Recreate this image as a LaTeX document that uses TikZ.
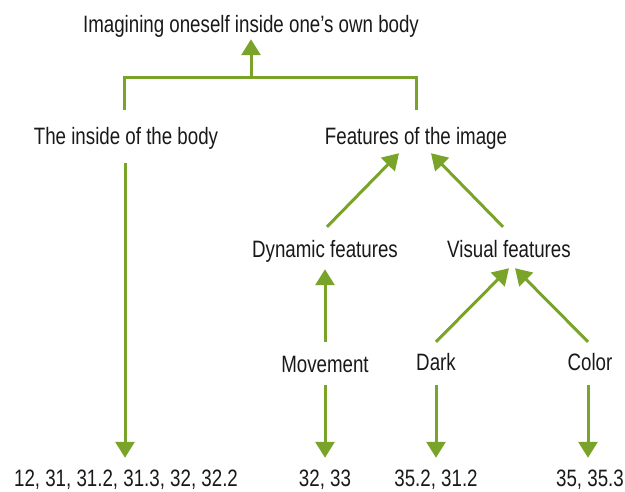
\documentclass[tikz,border=0pt]{standalone}
\usepackage{fontspec}
\setmainfont[FakeStretch=0.79]{Liberation Sans}
\usetikzlibrary{arrows.meta}
\definecolor{grn}{RGB}{122,163,41}
\definecolor{ink}{RGB}{25,25,25}
\begin{document}
\begin{tikzpicture}[x=1pt,y=-1pt,
  lbl/.style={font=\fontsize{23.7}{28}\selectfont, text=ink, inner sep=0pt, anchor=base, text height=17pt, text depth=5pt},
  conn/.style={draw=grn, line width=3pt},
  arr/.style={conn, -{Triangle[width=19pt,length=16pt]}}]
\useasboundingbox (0,0) rectangle (625,491);
\node[lbl] (title) at (251,32) {Imagining oneself inside one\char"0027 s own body};
\node[lbl] (body) at (126,144) {The inside of the body};
\node[lbl] (feat) at (416,144) {Features of the image};
\node[lbl] (dyn) at (325,257) {Dynamic features};
\node[lbl] (vis) at (509,257) {Visual features};
\node[lbl] (mov) at (325,372) {Movement};
\node[lbl] (dark) at (436,370) {Dark};
\node[lbl] (col) at (590,370) {Color};
\node[lbl] (r1) at (126,486) {12, 31, 31.2, 31.3, 32, 32.2};
\node[lbl] (r2) at (325,486) {32, 33};
\node[lbl] (r3) at (436,486) {35.2, 31.2};
\node[lbl] (r4) at (590,486) {35, 35.3};
\coordinate (brk) at (251,77);
\draw[conn] ([xshift=-2pt,yshift=17pt]body.north) |- (brk) -| ([yshift=17pt]feat.north);
\draw[arr] (brk) -- ([yshift=-2pt]title.south);
\draw[arr] ([xshift=-1pt,yshift=-14pt]body.south) -- ([xshift=-1pt,yshift=11pt]r1.north);
\draw[arr] ([xshift=2pt,yshift=13pt]dyn.north) -- ([xshift=-17pt,yshift=-4pt]feat.south);
\draw[arr] ([xshift=-6pt,yshift=13pt]vis.north) -- ([xshift=15pt,yshift=-4pt]feat.south);
\draw[arr] ([yshift=13pt]mov.north) -- ([yshift=-7pt]dyn.south);
\draw[arr] ([yshift=11pt]dark.north) -- ([yshift=-6pt]vis.south);
\draw[arr] ([xshift=-2pt,yshift=11pt]col.north) -- ([xshift=6pt,yshift=-6pt]vis.south);
\draw[arr] ([yshift=-8pt]mov.south) -- ([yshift=11pt]r2.north);
\draw[arr] ([yshift=-10pt]dark.south) -- ([yshift=11pt]r3.north);
\draw[arr] ([xshift=-2pt,yshift=-10pt]col.south) -- ([xshift=-2pt,yshift=11pt]r4.north);
\end{tikzpicture}
\end{document}
